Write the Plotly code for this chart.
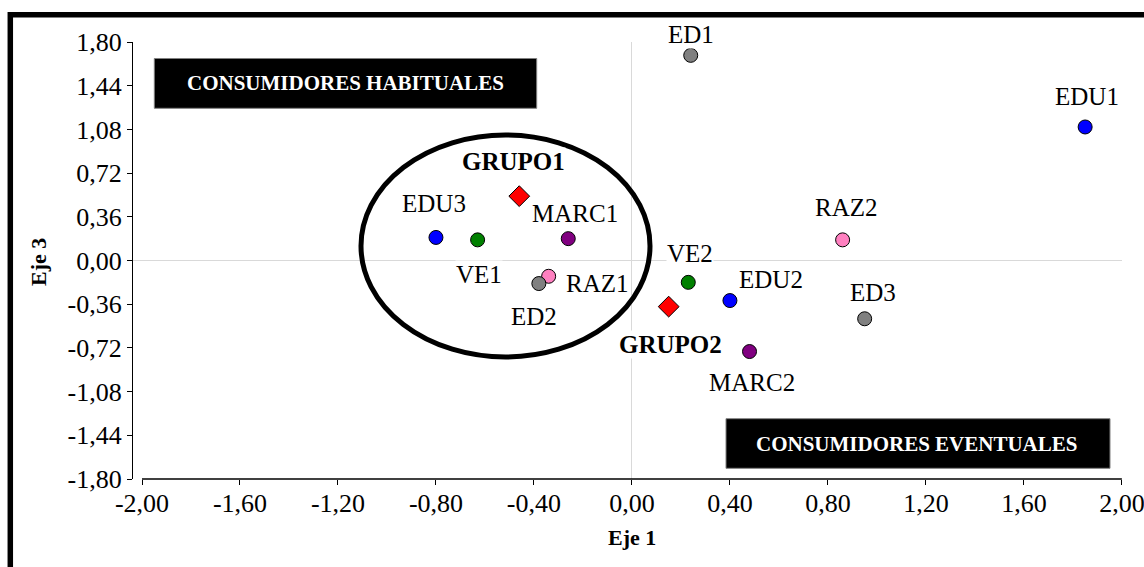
import plotly.graph_objects as go

# ---------------- data ----------------
names = ["ED1", "EDU1", "RAZ2", "ED3", "EDU2", "VE2", "MARC2",
         "EDU3", "VE1", "MARC1", "RAZ1", "ED2"]
eje1 = [0.24, 1.85, 0.86, 0.95, 0.40, 0.23, 0.48,
        -0.80, -0.63, -0.26, -0.34, -0.38]
eje3 = [1.69, 1.10, 0.17, -0.48, -0.33, -0.18, -0.75,
        0.19, 0.17, 0.18, -0.13, -0.19]
colors = ["#808080", "#0000ff", "#ff80c0", "#808080", "#0000ff", "#008000", "#800080",
          "#0000ff", "#008000", "#800080", "#ff80c0", "#808080"]

groups = ["GRUPO1", "GRUPO2"]
group_x = [-0.46, 0.15]
group_y = [0.53, -0.38]

x_tickvals = [-2.0, -1.6, -1.2, -0.8, -0.4, 0.0, 0.4, 0.8, 1.2, 1.6, 2.0]
x_ticktext = ["-2,00", "-1,60", "-1,20", "-0,80", "-0,40", "0,00", "0,40", "0,80", "1,20", "1,60", "2,00"]
y_tickvals = [-1.8, -1.44, -1.08, -0.72, -0.36, 0.0, 0.36, 0.72, 1.08, 1.44, 1.8]
y_ticktext = ["-1,80", "-1,44", "-1,08", "-0,72", "-0,36", "0,00", "0,36", "0,72", "1,08", "1,44", "1,80"]

# ---------------- style ----------------
FONT = "Liberation Serif, Times New Roman, serif"
W, H = 1144, 567
ML, MR, MT, MB = 133, 22, 42, 88
PW, PH = W - ML - MR, H - MT - MB

def px(x):
    return (x - ML) / PW

def py(y):
    return (H - MB - y) / PH

# label offsets (pixels: dx, dy up)
label_off = {
    "ED1": (0, 21), "EDU1": (2, 30), "RAZ2": (4, 32), "ED3": (8, 26),
    "EDU2": (41, 21), "VE2": (2, 29), "MARC2": (2, -31), "EDU3": (-2, 34),
    "VE1": (1, -35), "MARC1": (7, 25), "RAZ1": (49, -7), "ED2": (-5, -33),
    "GRUPO1": (-6, 35), "GRUPO2": (2, -38),
}

fig = go.Figure()

fig.add_trace(go.Scatter(
    x=eje1, y=eje3, mode="markers",
    marker=dict(size=14, color=colors, line=dict(color="black", width=1)),
    hoverinfo="text", text=names, showlegend=False,
))
fig.add_trace(go.Scatter(
    x=group_x, y=group_y, mode="markers",
    marker=dict(size=16, symbol="diamond", color="#ff0000", line=dict(color="black", width=1)),
    hoverinfo="text", text=groups, showlegend=False,
))

annotations = []
for n, xv, yv in zip(names, eje1, eje3):
    dx, dy = label_off[n]
    annotations.append(dict(x=xv, y=yv, xref="x", yref="y", text=n, showarrow=False,
                            xanchor="center", yanchor="middle",
                            xshift=dx, yshift=dy, bgcolor="white", borderpad=0,
                            font=dict(family=FONT, size=25, color="black")))
for n, xv, yv in zip(groups, group_x, group_y):
    dx, dy = label_off[n]
    annotations.append(dict(x=xv, y=yv, xref="x", yref="y", text="<b>" + n + "</b>", showarrow=False,
                            xanchor="center", yanchor="middle",
                            xshift=dx, yshift=dy, bgcolor="white", borderpad=0,
                            font=dict(family=FONT, size=25, color="black")))

# black boxes text
annotations.append(dict(x=px(345.5), y=py(83.5), xref="paper", yref="paper",
                        xanchor="center", yanchor="middle",
                        text="<b>CONSUMIDORES HABITUALES</b>", showarrow=False,
                        font=dict(family=FONT, size=21, color="white")))
annotations.append(dict(x=px(916), y=py(443.5), xref="paper", yref="paper",
                        xanchor="center", yanchor="middle",
                        text="<b>CONSUMIDORES EVENTUALES</b>", showarrow=False,
                        font=dict(family=FONT, size=21, color="white")))
# axis titles
annotations.append(dict(x=px(632), y=py(537), xref="paper", yref="paper",
                        xanchor="center", yanchor="middle",
                        text="<b>Eje 1</b>", showarrow=False,
                        font=dict(family=FONT, size=22, color="black")))
annotations.append(dict(x=px(38), y=py(262), xref="paper", yref="paper",
                        xanchor="center", yanchor="middle",
                        text="<b>Eje 3</b>", showarrow=False, textangle=-90,
                        font=dict(family=FONT, size=22, color="black")))

shapes = [
    # outer frame
    dict(type="rect", xref="paper", yref="paper", x0=px(10.3), y0=py(14.8), x1=px(1175), y1=py(610),
         line=dict(color="black", width=5.5), fillcolor="rgba(0,0,0,0)", layer="above"),
    # x axis line
    dict(type="line", xref="x", yref="paper", x0=-2.0, x1=2.0, y0=0, y1=0,
         line=dict(color="black", width=1.3)),
    # ellipse
    dict(type="circle", xref="paper", yref="paper", x0=px(361), x1=px(650), y0=py(357), y1=py(135),
         line=dict(color="black", width=5)),
    # boxes
    dict(type="rect", xref="paper", yref="paper", x0=px(154.3), x1=px(536.7), y0=py(108.3), y1=py(58.5),
         line=dict(color="#808080", width=1), fillcolor="black"),
    dict(type="rect", xref="paper", yref="paper", x0=px(726), x1=px(1110), y0=py(468.3), y1=py(418.7),
         line=dict(color="#808080", width=1), fillcolor="black"),
]

fig.update_layout(
    width=W, height=H,
    margin=dict(l=ML, r=MR, t=MT, b=MB, pad=0, autoexpand=False),
    paper_bgcolor="white", plot_bgcolor="white",
    font=dict(family=FONT, color="black"),
    xaxis=dict(range=[-2.0 - 9 / 245, 2.0005], tickvals=x_tickvals, ticktext=x_ticktext,
               automargin=False,
               showgrid=False, zeroline=True, zerolinecolor="#d9d9d9", zerolinewidth=1,
               showline=False, ticks="outside", ticklen=5, tickcolor="black", tickwidth=1.3,
               ticklabelstandoff=-4, ticklabeloverflow="allow",
               tickfont=dict(family=FONT, size=26, color="black")),
    yaxis=dict(range=[-1.8, 1.8], tickvals=y_tickvals, ticktext=y_ticktext,
               automargin=False,
               showgrid=False, zeroline=True, zerolinecolor="#d9d9d9", zerolinewidth=1,
               showline=True, linecolor="black", linewidth=1.3,
               ticks="outside", ticklen=5, tickcolor="black", tickwidth=1.3,
               tickfont=dict(family=FONT, size=26, color="black")),
    annotations=annotations, shapes=shapes,
)

fig.write_html("out.html", config={"displayModeBar": False},
               post_script="document.body.style.margin='0';document.body.style.padding='0';")
